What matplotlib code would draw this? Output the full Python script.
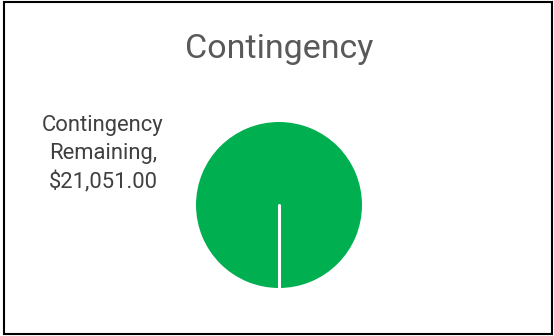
import matplotlib
matplotlib.use("Agg")
import matplotlib.pyplot as plt
import numpy as np
from matplotlib.patches import Rectangle

plt.rcParams['font.family'] = ['Roboto', 'DejaVu Sans']

# pie data
categories = ["Contingency Remaining"]
amounts = [21051.00]
colors = ["#00B050"]
title = "Contingency"
start_angle = 270  # first slice begins at 6 o'clock

W, H = 554, 336
fig = plt.figure(figsize=(W / 100, H / 100), dpi=100, facecolor='white')

# outer chart border
fig.patches.append(Rectangle((4 / W, 2.5 / H), (548 / W), (331.5 / H),
                             transform=fig.transFigure, fill=False,
                             edgecolor='black', linewidth=1.5))

# pie plot area, in pixels
cx, cy, r = 279, 205, 83
ax = fig.add_axes([(cx - r) / W, (H - cy - r) / H, 2 * r / W, 2 * r / H])
ax.pie(amounts, colors=colors, startangle=start_angle, counterclock=False,
       radius=1.0, wedgeprops=dict(linewidth=0))

# white slice separator along the start edge
a = np.deg2rad(start_angle)
ax.plot([0, np.cos(a)], [0, np.sin(a)], color='white', linewidth=2.2,
        solid_capstyle='round')
ax.set_xlim(-1, 1)
ax.set_ylim(-1, 1)
ax.set_aspect('equal')
ax.axis('off')

fig.text(279 / W, 1 - 49 / H, title, ha='center', va='center',
         fontsize=24.5, color='#595959')

label = f"{categories[0].replace(' ', chr(10), 1)},\n${amounts[0]:,.2f}"
fig.text(103 / W, 1 - 154 / H, label, ha='center', va='center',
         fontsize=15.8, color='#404040', linespacing=1.45)

fig.savefig("out.png", dpi=100, facecolor='white')
